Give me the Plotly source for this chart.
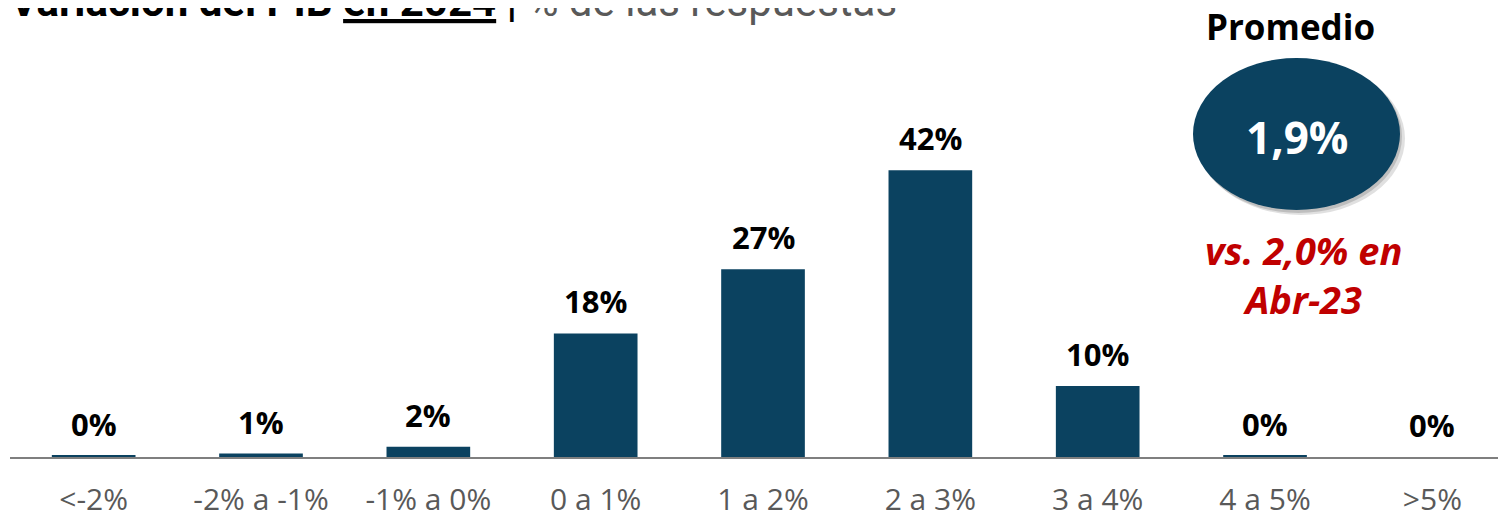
import plotly.graph_objects as go

categorias = ["<-2%", "-2% a -1%", "-1% a 0%", "0 a 1%", "1 a 2%",
              "2 a 3%", "3 a 4%", "4 a 5%", ">5%"]
respuestas = [0.2, 0.5, 1.5, 18.1, 27.5, 42.0, 10.4, 0.2, 0.0]
etiquetas = ["0%", "1%", "2%", "18%", "27%", "42%", "10%", "0%", "0%"]

promedio = "1,9%"
comparacion = "vs. 2,0% en<br>Abr-23"

AZUL = "#0B4260"
ROJO = "#C00000"
GRIS = "#595959"
FONT = "Open Sans"

# la pagina tiene 8px de margen en el body
OFF = 8
W, H = 1506 - OFF, 521 - OFF
L, R, T, B = 2, 0, 12, 64
PW, PH = W - L - R, H - T - B


def px(x):
    return (x - OFF - L) / PW


def py(y):
    return (H - B - (y - OFF)) / PH


fig = go.Figure(
    go.Bar(
        x=categorias,
        y=respuestas,
        width=0.5,
        marker=dict(color=AZUL, line=dict(width=0)),
        hoverinfo="skip",
    )
)

annotations = []
for cat, val, lab in zip(categorias, respuestas, etiquetas):
    annotations.append(dict(
        x=cat, y=val, text=f"<b>{lab}</b>", showarrow=False,
        xanchor="center", yanchor="middle", yshift=32,
        font=dict(family=FONT, size=31, color="black"),
    ))

# titulo (cortado arriba como en el original)
annotations.append(dict(
    xref="paper", yref="paper", x=px(8), y=py(1),
    xanchor="left", yanchor="middle", showarrow=False,
    text="<b>Variación del PIB <u>en 2024</u> |</b> "
         f"<span style='color:{GRIS}'>% de las respuestas</span>",
    font=dict(family="Roboto", size=42, color="black"),
))

annotations += [
    dict(xref="paper", yref="paper", x=px(1290), y=py(27), showarrow=False,
         xanchor="center", yanchor="middle",
         text="<b>Promedio</b>", font=dict(family=FONT, size=35, color="black")),
    dict(xref="paper", yref="paper", x=px(1297), y=py(137), showarrow=False,
         xanchor="center", yanchor="middle",
         text=f"<b>{promedio}</b>", font=dict(family=FONT, size=44, color="white")),
    dict(xref="paper", yref="paper", x=px(1303), y=py(274), showarrow=False,
         xanchor="center", yanchor="middle",
         text=f"<b><i>{comparacion}</i></b>", align="center",
         font=dict(family=FONT, size=38, color=ROJO)),
]

shapes = [
    dict(type="circle", xref="paper", yref="paper",
         x0=px(1197), x1=px(1405), y0=py(215), y1=py(62),
         fillcolor="rgba(0,0,0,0.12)", line=dict(width=0), layer="below"),
    dict(type="circle", xref="paper", yref="paper",
         x0=px(1195), x1=px(1402), y0=py(213), y1=py(60),
         fillcolor="rgba(0,0,0,0.15)", line=dict(width=0), layer="below"),
    dict(type="circle", xref="paper", yref="paper",
         x0=px(1193), x1=px(1400), y0=py(210), y1=py(58),
         fillcolor=AZUL, line=dict(width=0), layer="above"),
]

fig.update_layout(
    width=W, height=H,
    margin=dict(l=L, r=R, t=T, b=B),
    paper_bgcolor="white", plot_bgcolor="white",
    showlegend=False,
    bargap=0.5,
    annotations=annotations,
    shapes=shapes,
    xaxis=dict(
        range=[-0.5, 8.44], showline=True, linecolor="#7F7F7F", linewidth=2,
        showgrid=False, zeroline=False, ticks="", ticklabelstandoff=15,
        automargin=False,
        tickfont=dict(family=FONT, size=30, color=GRIS), fixedrange=True,
    ),
    yaxis=dict(range=[0, 64], visible=False, fixedrange=True, automargin=False),
)

fig.write_html("out.html")
